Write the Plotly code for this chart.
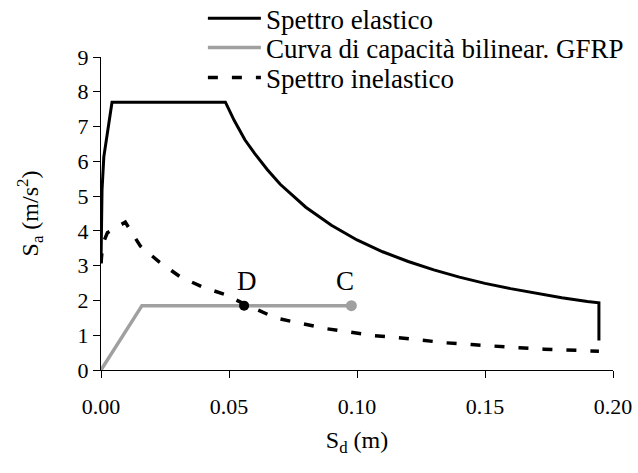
import plotly.graph_objects as go

# Elastic spectrum (Sd [m], Sa [m/s^2])
el_sd = [0.0, 0.0002, 0.0004, 0.0011, 0.0043, 0.0486, 0.0520, 0.0562, 0.0600, 0.0650, 0.0700,
         0.0800, 0.0900, 0.1000, 0.1100, 0.1200, 0.1300, 0.1400, 0.1500, 0.1600,
         0.1700, 0.1800, 0.1900, 0.1945, 0.1945]
el_sa = [3.07, 3.73, 5.17, 6.13, 7.70, 7.70, 7.18, 6.62, 6.23, 5.76, 5.34,
         4.68, 4.16, 3.74, 3.40, 3.12, 2.88, 2.67, 2.49, 2.34,
         2.20, 2.08, 1.97, 1.93, 0.85]

# Bilinear capacity curve (GFRP)
cap_sd = [0.0, 0.0160, 0.0978]
cap_sa = [0.0, 1.85, 1.85]

# Inelastic spectrum
in_sd = [0.0, 0.0006, 0.0025, 0.0095, 0.0154, 0.0227, 0.0311, 0.0405, 0.0486, 0.0559,
         0.0685, 0.0783, 0.0878, 0.0971, 0.1063, 0.1160, 0.1255, 0.1350, 0.1447,
         0.1538, 0.1633, 0.1730, 0.1824, 0.1945]
in_sa = [3.07, 3.60, 3.95, 4.25, 3.56, 3.11, 2.67, 2.36, 2.17, 1.90,
         1.49, 1.35, 1.19, 1.09, 0.99, 0.93, 0.85, 0.78, 0.73,
         0.68, 0.64, 0.60, 0.57, 0.54]

# Points D and C
pt_labels = ["D", "C"]
pt_sd = [0.0559, 0.0978]
pt_sa = [1.85, 1.85]

FONT = "Liberation Serif, Times New Roman, serif"
GREY = "#a0a0a0"

fig = go.Figure()
fig.add_trace(go.Scatter(x=el_sd, y=el_sa, mode="lines", name="Spettro elastico",
                         line=dict(color="black", width=3), legend="legend"))
fig.add_trace(go.Scatter(x=cap_sd, y=cap_sa, mode="lines", name="Curva di capacità bilinear. GFRP",
                         line=dict(color=GREY, width=3.5), legend="legend2"))
fig.add_trace(go.Scatter(x=in_sd, y=in_sa, mode="lines", name="Spettro inelastico",
                         line=dict(color="black", width=3.5, dash="10px,14px"), legend="legend3"))
fig.add_trace(go.Scatter(x=[pt_sd[1]], y=[pt_sa[1]], mode="markers", showlegend=False,
                         marker=dict(color=GREY, size=11)))
fig.add_trace(go.Scatter(x=[pt_sd[0]], y=[pt_sa[0]], mode="markers", showlegend=False,
                         marker=dict(color="black", size=10)))

for lab, xs, ys in zip(pt_labels, pt_sd, pt_sa):
    fig.add_annotation(x=xs + 0.0010 if lab == "D" else xs - 0.0026, y=ys + 0.72, text=lab,
                       showarrow=False, font=dict(family=FONT, size=27, color="black"))

leg_common = dict(x=0.199, xanchor="left", yanchor="middle", bgcolor="rgba(0,0,0,0)",
                  font=dict(family=FONT, size=27, color="black"), itemwidth=53,
                  borderwidth=0, tracegroupgap=0)

fig.update_layout(
    width=638, height=473,
    margin=dict(l=101, r=25, t=57, b=103, autoexpand=False),
    paper_bgcolor="white", plot_bgcolor="white",
    font=dict(family=FONT, size=22, color="black"),
    showlegend=True,
    legend=dict(y=1.122, **leg_common),
    legend2=dict(y=1.029, **leg_common),
    legend3=dict(y=0.933, **leg_common),
    xaxis=dict(range=[0, 0.2], dtick=0.05, tick0=0, tickformat=".2f", automargin=False,
               showgrid=False, zeroline=False, showline=True, linecolor="black", linewidth=1,
               ticks="outside", ticklen=7, tickcolor="black", ticklabelstandoff=10,
               tickfont=dict(family=FONT, size=22),
               title=dict(text="S<sub>d</sub> (m)", font=dict(family=FONT, size=24), standoff=12)),
    yaxis=dict(range=[0, 9], dtick=1, tick0=0, automargin=False,
               showgrid=False, zeroline=False, showline=True, linecolor="black", linewidth=1,
               ticks="outside", ticklen=7, tickcolor="black",
               tickfont=dict(family=FONT, size=22),
               title=dict(text="S<sub>a</sub> (m/s<sup>2</sup>)", font=dict(family=FONT, size=24), standoff=32)),
)

# remove the browser's default page margin so the figure sits at the window's corner
fig.write_html("out.html", config={"displayModeBar": False},
               post_script="document.body.style.margin='0px';")
